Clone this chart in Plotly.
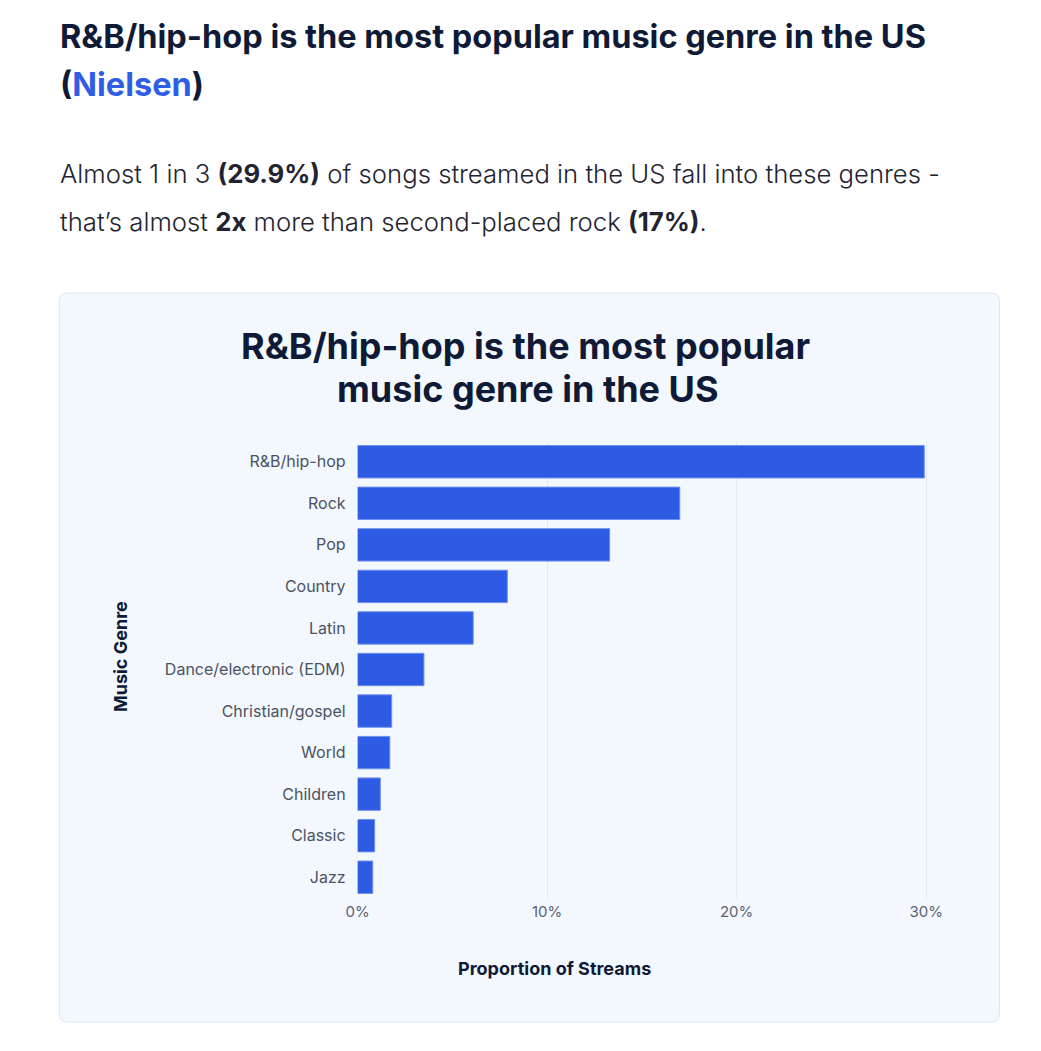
import plotly.graph_objects as go

# Nielsen: share of US streams by genre
genres = ["R&B/hip-hop", "Rock", "Pop", "Country", "Latin", "Dance/electronic (EDM)",
          "Christian/gospel", "World", "Children", "Classic", "Jazz"]
shares = [29.9, 17.0, 13.3, 7.9, 6.1, 3.5, 1.8, 1.7, 1.2, 0.9, 0.8]
x_ticks = [0, 10, 20, 30]
x_tick_labels = ["0%", "10%", "20%", "30%"]

# page body has an 8px margin; keep the figure small enough to avoid scrollbars
OFF = 8
W, H = 1020, 1030
DARK = "#0f1a36"
BLUE = "#2d5be3"
FONT = "Inter"


# window pixel -> paper coords
def px(x):
    return (x - OFF) / W


def py(y):
    return 1 - (y - OFF) / H


def rounded_rect(x0, y0, x1, y1, r):
    a, b, c, d = px(x0), py(y0), px(x1), py(y1)
    rx, ry = r / W, r / H
    return (f"M {a+rx},{b} L {c-rx},{b} Q {c},{b} {c},{b-ry} "
            f"L {c},{d+ry} Q {c},{d} {c-rx},{d} L {a+rx},{d} "
            f"Q {a},{d} {a},{d+ry} L {a},{b-ry} Q {a},{b} {a+rx},{b} Z")


bars = go.Bar(
    x=shares,
    y=genres,
    orientation="h",
    marker=dict(color=BLUE, line=dict(color="#6f8ff0", width=1)),
    hovertemplate="%{y}: %{x}%<extra></extra>",
)

fig = go.Figure(data=[bars])

fig.update_layout(
    width=W,
    height=H,
    margin=dict(l=0, r=0, t=0, b=0),
    paper_bgcolor="white",
    plot_bgcolor="rgba(0,0,0,0)",
    showlegend=False,
    bargap=0.22,
    font=dict(family=FONT, color=DARK),
    xaxis=dict(
        domain=[px(352), px(941)],
        range=[0, 30.5],
        tickvals=x_ticks,
        ticktext=x_tick_labels,
        showgrid=True,
        gridcolor="#e3e9f1",
        gridwidth=1,
        zeroline=False,
        showline=False,
        ticklabelstandoff=3,
        tickfont=dict(family=FONT, size=15, color="#5b6270"),
    ),
    yaxis=dict(
        domain=[py(898), py(441)],
        autorange="reversed",
        showgrid=False,
        zeroline=False,
        showline=False,
        ticklabelstandoff=11,
        tickfont=dict(family=FONT, size=16, color="#4b5262"),
    ),
    shapes=[
        dict(type="path", xref="paper", yref="paper", layer="below",
             path=rounded_rect(48, 293, 1006, 1022, 8),
             fillcolor="#f3f8fe", line=dict(color="#d9e6f6", width=1)),
    ],
)


def label(x, y, text, size, color=DARK, anchor="left", **kw):
    fig.add_annotation(
        x=px(x), y=py(y), xref="paper", yref="paper", xanchor=anchor, yanchor="middle",
        showarrow=False, align=anchor if anchor != "center" else "center",
        text=text, font=dict(family=FONT, size=size, color=color, **kw),
    )


# page heading and intro text
label(47, 37, "<b>R&B/hip-hop is the most popular music genre in the US</b>", 32.5)
label(47, 84, "<b>(<span style='color:#2f5ee6'>Nielsen</span>)</b>", 32.5)
label(47, 174, "Almost 1 in 3 <b>(29.9%)</b> of songs streamed in the US fall into these genres -",
      25.7, color="#1f2430", weight=300)
label(47, 221, "that\u2019s almost <b>2x</b> more than second-placed rock <b>(17%)</b>.",
      25.7, color="#1f2430", weight=300)

# chart title inside the card
label(523, 346, "<b>R&B/hip-hop is the most popular</b>", 36, anchor="center")
label(526, 389, "<b>music genre in the US</b>", 36, anchor="center")

# axis titles
fig.add_annotation(
    x=px(110), y=py(657), xref="paper", yref="paper", xanchor="center", yanchor="middle",
    showarrow=False, textangle=-90,
    text="<b>Music Genre</b>",
    font=dict(family=FONT, size=18, color=DARK),
)
label(553, 968, "<b>Proportion of Streams</b>", 18, anchor="center")

fig.write_html("out.html")
